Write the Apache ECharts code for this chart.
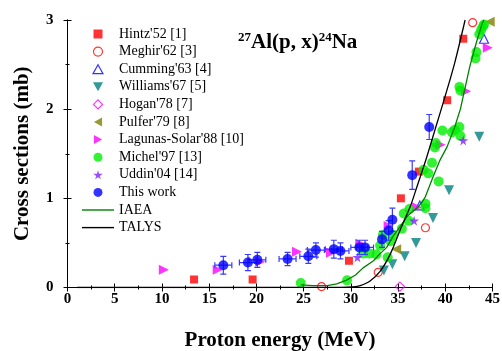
<!DOCTYPE html>
<html><head><meta charset="utf-8">
<script src="https://cdn.jsdelivr.net/npm/echarts@6/dist/echarts.min.js"></script>
<style>html,body{margin:0;padding:0;background:#fff}#c{width:502px;height:351px}</style>
</head><body><div id="c"></div>
<script>
// ---- data ----
const xTicks = [0,5,10,15,20,25,30,35,40,45];
const yTicks = [0,1,2,3];
const hintz = [[13.4,0.09],[19.6,0.09],[29.8,0.30],[35.3,1.0],[37.2,1.30],[40.2,2.1],[41.9,2.79]];
const meghir = [[26.9,0.01],[32.9,0.17],[37.9,0.67],[42.9,2.97]];
const cumming = [[37.3,0.92],[44.1,2.79]];
const williams = [[33.5,0.19],[34.4,0.26],[35.7,0.35],[36.9,0.50],[38.7,0.78],[40.4,1.09],[43.6,1.69]];
const hogan = [[35.2,0.01]];
const pulfer = [[34.8,0.43],[44.7,2.98]];
const lagunas = [[10.2,0.2],[15.9,0.2],[20.4,0.29],[24.3,0.4],[27.9,0.39],[31.0,0.49],[34.0,0.69],[37.0,0.9],[39.5,1.6],[42.2,2.2],[44.5,2.69]];
const michel = [[24.7,0.05],[29.6,0.08],[31.3,0.38],[32.0,0.38],[32.7,0.37],[33.1,0.47],[33.4,0.59],[33.9,0.34],[34.2,0.52],[34.5,0.59],[35.4,0.66],[35.6,0.83],[36.1,0.75],[36.2,0.88],[37.9,0.94],[37.9,0.89],[37.7,1.32],[38.2,1.28],[38.6,1.40],[38.9,1.57],[39.0,1.62],[39.3,1.19],[39.7,1.76],[40.7,1.74],[41.0,1.77],[41.5,1.80],[41.6,1.70],[41.5,2.25],[41.6,2.21],[43.2,2.57],[43.3,2.64],[43.6,2.84],[43.8,2.89],[44.0,2.93],[44.1,2.95]];
const uddin = [[30.7,0.34],[36.7,0.75],[41.9,1.65]];
const thisWorkE  = [16.5,19.1,20.1,23.3,25.5,26.3,28.2,28.9,30.9,31.5,33.3,34.0,34.4,36.5,38.3];
const thisWorkCS = [0.25,0.28,0.31,0.32,0.35,0.42,0.43,0.41,0.45,0.45,0.54,0.64,0.76,1.26,1.80];
const thisWorkDE = [0.9,0.9,0.9,0.9,0.9,0.9,0.9,0.9,0.9,0.9,0,0,0,0,0];
const thisWorkDCS= [0.10,0.09,0.085,0.075,0.08,0.08,0.10,0.09,0.08,0.08,0.09,0.11,0.13,0.16,0.14];
const iaea = [[24.7,0.03],[26,0.02],[27.5,0.02],[28.5,0.04],[29.5,0.08],[30.5,0.14],[31.3,0.22],[32.4,0.30],[33.1,0.38],[33.8,0.45],[34.5,0.58],[35.2,0.68],[35.9,0.79],[36.5,0.85],[37.0,0.89],[37.5,0.95],[37.9,1.02],[38.7,1.24],[39.4,1.42],[40.2,1.58],[41.0,1.80],[41.6,2.0],[42.6,2.48],[43.3,2.75],[43.9,2.96],[44.1,3.0]];
const talys = [[1,0],[10,0],[20,0],[28,0.002],[29.6,0.005],[30.5,0.01],[31.0,0.02],[32.0,0.07],[33.1,0.18],[34.2,0.38],[35.2,0.64],[36.3,0.91],[37.0,1.13],[38.0,1.45],[39.0,1.80],[40.0,2.15],[41.0,2.52],[42.1,3.0]];

// ---- chart ----
const FONT = '"Liberation Serif","Times New Roman",serif';
const chart = echarts.init(document.getElementById('c'));
const P = {
  rect:'path://M0,0H10V10H0Z',
  up:'path://M5,0L10,9L0,9Z',
  down:'path://M0,0L10,0L5,9Z',
  left:'path://M0,5L9,0L9,10Z',
  right:'path://M9,5L0,0L0,10Z',
  diamond:'path://M5,0L10,5L5,10L0,5Z',
  star:'path://M50,0 L61,35 L98,35 L68,57 L79,91 L50,70 L21,91 L32,57 L2,35 L39,35 Z',
  line:'path://M0,0H32V1.4H0Z'
};
function sc(name, data, symbol, color, size, empty, extra) {
  return Object.assign({type:'scatter', name, data, symbol, symbolSize:size,
    itemStyle: empty ? {color:'rgba(255,255,255,0)', borderColor:color, borderWidth:1.2}
                     : {color, borderColor:color, borderWidth:0},
    z:3, clip:true}, extra||{});
}
function lg(name, icon, color, empty){
  return {name, icon, itemStyle: empty ? {color:'#fff', borderColor:color, borderWidth:1.2} : {color, borderWidth:0}};
}
const errData = thisWorkE.map((e,i)=>[e, thisWorkCS[i], thisWorkDE[i], thisWorkDCS[i]]);
const axisLineStyle = {color:'#000', width:1};
chart.setOption({
  animation:false,
  textStyle:{fontFamily:FONT},
  grid:{left:67.5, right:9.5, top:20, bottom:63.5, containLabel:false, outerBoundsMode:'none'},
  xAxis:[{type:'value', min:0, max:45, interval:5, position:'bottom',
      axisLine:{lineStyle:axisLineStyle}, axisTick:{inside:false, length:4, lineStyle:axisLineStyle},
      minorTick:{show:true, splitNumber:2, length:2, lineStyle:axisLineStyle},
      splitLine:{show:false},
      axisLabel:{color:'#000', fontFamily:FONT, fontWeight:'bold', fontSize:15, margin:4},
      name:'Proton energy (MeV)', nameLocation:'middle', nameGap:43,
      nameTextStyle:{color:'#000', fontFamily:FONT, fontWeight:'bold', fontSize:21}},
    {type:'value', min:0, max:45, interval:5, position:'top',
      axisLine:{lineStyle:axisLineStyle}, axisTick:{length:4, lineStyle:axisLineStyle},
      minorTick:{show:true, splitNumber:2, length:2, lineStyle:axisLineStyle},
      splitLine:{show:false}, axisLabel:{show:false}}],
  yAxis:[{type:'value', min:0, max:3, interval:1, position:'left',
      axisLine:{show:true, lineStyle:axisLineStyle}, axisTick:{show:true, length:4, lineStyle:axisLineStyle},
      minorTick:{show:true, splitNumber:2, length:2, lineStyle:axisLineStyle},
      splitLine:{show:false},
      axisLabel:{color:'#000', fontFamily:FONT, fontWeight:'bold', fontSize:15, margin:14},
      name:'Cross sections (mb)', nameLocation:'middle', nameGap:34,
      nameTextStyle:{color:'#000', fontFamily:FONT, fontWeight:'bold', fontSize:21}},
    {type:'value', min:0, max:3, interval:1, position:'right',
      axisLine:{show:true, lineStyle:axisLineStyle}, axisTick:{show:true, length:4, lineStyle:axisLineStyle},
      minorTick:{show:true, splitNumber:2, length:2, lineStyle:axisLineStyle},
      splitLine:{show:false}, axisLabel:{show:false}}],
  legend:{orient:'vertical', left:82, top:26, padding:0, itemWidth:32, itemHeight:9, itemGap:1.6,
    textStyle:{fontFamily:FONT, fontSize:14, color:'#000', lineHeight:16},
    data:[lg('Hintz\'52 [1]', P.rect, '#ff0000'),
          lg('Meghir\'62 [3]', 'circle', '#ff0000', true),
          lg('Cumming\'63 [4]', P.up, '#0000ff', true),
          lg('Williams\'67 [5]', P.down, '#008080'),
          lg('Hogan\'78 [7]', P.diamond, '#ff00ff', true),
          lg('Pulfer\'79 [8]', P.left, '#808000'),
          lg('Lagunas-Solar\'88 [10]', P.right, '#ff00ff'),
          lg('Michel\'97 [13]', 'circle', '#00ee00'),
          lg('Uddin\'04 [14]', P.star, '#8020ff'),
          lg('This work', 'circle', '#0000ff'),
          lg('IAEA', P.line, '#008000'),
          lg('TALYS', P.line, '#000000')]},
  graphic:[{type:'text', left:238, top:31, z:10,
    style:{text:'{s|27}{b|Al(p, x)}{s|24}{b|Na}', fontFamily:FONT,
      rich:{s:{fontSize:13, fontWeight:'bold', fontFamily:FONT, verticalAlign:'top', padding:[0,0,10,0]},
            b:{fontSize:21, fontWeight:'bold', fontFamily:FONT}}}}],
  series:[
    sc('Hintz\'52 [1]', hintz, P.rect, '#ff0000', 8),
    sc('Meghir\'62 [3]', meghir, 'circle', '#ff0000', 8, true),
    sc('Cumming\'63 [4]', cumming, P.up, '#0000ff', 9, true),
    sc('Williams\'67 [5]', williams, P.down, '#008080', 10),
    sc('Hogan\'78 [7]', hogan, P.diamond, '#ff00ff', 9, true),
    sc('Pulfer\'79 [8]', pulfer, P.left, '#808000', 10),
    sc('Lagunas-Solar\'88 [10]', lagunas, P.right, '#ff00ff', 10),
    sc('Michel\'97 [13]', michel, 'circle', '#00ee00', 10),
    sc('Uddin\'04 [14]', uddin, P.star, '#8020ff', 10),
    {type:'custom', name:'errbars', data:errData, z:4, clip:true,
      renderItem:function(params, api){
        const x=api.value(0), y=api.value(1), ex=api.value(2), ey=api.value(3);
        const t=api.coord([x,y+ey]), b=api.coord([x,y-ey]);
        const st={stroke:'#3a3aff', lineWidth:1.2};
        const ch=[
          {type:'line', shape:{x1:t[0],y1:t[1],x2:b[0],y2:b[1]}, style:st},
          {type:'line', shape:{x1:t[0]-3,y1:t[1],x2:t[0]+3,y2:t[1]}, style:st},
          {type:'line', shape:{x1:b[0]-3,y1:b[1],x2:b[0]+3,y2:b[1]}, style:st}];
        if (ex>0){
          const l=api.coord([x-ex,y]), r=api.coord([x+ex,y]);
          ch.push({type:'line', shape:{x1:l[0],y1:l[1],x2:r[0],y2:r[1]}, style:st});
          ch.push({type:'line', shape:{x1:l[0],y1:l[1]-3,x2:l[0],y2:l[1]+3}, style:st});
          ch.push({type:'line', shape:{x1:r[0],y1:r[1]-3,x2:r[0],y2:r[1]+3}, style:st});
        }
        return {type:'group', children:ch};
      }},
    sc('This work', thisWorkE.map((e,i)=>[e,thisWorkCS[i]]), 'circle', '#0000ff', 10, false, {z:5}),
    {type:'line', name:'IAEA', data:iaea, symbol:'none', showSymbol:false, z:6, clip:true,
      lineStyle:{color:'#008000', width:1.3}, itemStyle:{color:'#008000'}},
    {type:'line', name:'TALYS', data:talys, symbol:'none', showSymbol:false, z:6, clip:true, smooth:0.3,
      lineStyle:{color:'#000', width:1.3}, itemStyle:{color:'#000'}}
  ]
});
</script></body></html>
